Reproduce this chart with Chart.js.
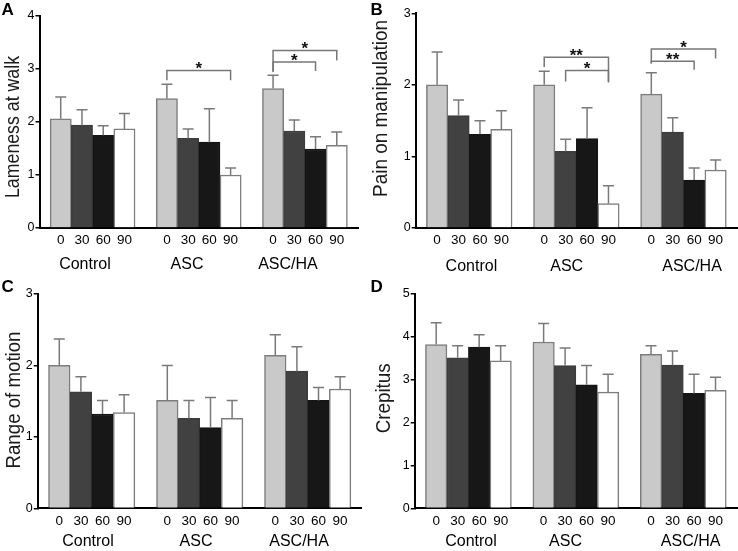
<!DOCTYPE html>
<html>
<head>
<meta charset="utf-8">
<script src="https://cdn.jsdelivr.net/npm/chart.js@4.4.0/dist/chart.umd.min.js"></script>
<style>
  html, body { margin: 0; padding: 0; background: #fff; }
  #wrap { position: relative; width: 738px; height: 551px; overflow: hidden; }
  canvas { position: absolute; }
</style>
</head>
<body>
<div id="wrap">
  <canvas id="chartA" width="369" height="275" style="left:0;top:0"></canvas>
  <canvas id="chartB" width="369" height="275" style="left:369px;top:0"></canvas>
  <canvas id="chartC" width="369" height="276" style="left:0;top:275px"></canvas>
  <canvas id="chartD" width="369" height="276" style="left:369px;top:275px"></canvas>
</div>
<script>
// groups and time points (days)
const groups = ['Control', 'ASC', 'ASC/HA'];
const days = ['0', '30', '60', '90'];

// A - lameness at walk
const lamenessMean = [2.06, 1.94, 1.75, 1.87, 2.44, 1.69, 1.62, 1.00, 2.63, 1.83, 1.49, 1.56];
const lamenessErr  = [0.41, 0.29, 0.18, 0.29, 0.27, 0.18, 0.63, 0.13, 0.25, 0.21, 0.23, 0.25];
// brackets: group, from day, to day, level, left end, right end, label
const lamenessSig = [
  [1, 0, 3, 2.97, 2.79, 2.79, '*'],
  [2, 0, 3, 3.35, 2.95, 3.16, '*'],
  [2, 0, 2, 3.13, 2.95, 2.96, '*']
];

// B - pain on manipulation
const painMean = [2.00, 1.57, 1.31, 1.38, 2.00, 1.07, 1.25, 0.34, 1.87, 1.34, 0.67, 0.81];
const painErr  = [0.46, 0.22, 0.19, 0.26, 0.19, 0.17, 0.43, 0.25, 0.30, 0.20, 0.17, 0.14];
const painSig = [
  [1, 0, 3, 2.385, 2.25, 2.036, '**'],
  [1, 1, 3, 2.20, 2.047, 2.036, '*'],
  [2, 0, 3, 2.50, 2.30, 2.37, '*'],
  [2, 0, 2, 2.33, 2.30, 2.21, '**']
];

// C - range of motion
const romMean = [2.00, 1.63, 1.32, 1.34, 1.51, 1.26, 1.13, 1.26, 2.14, 1.92, 1.51, 1.67];
const romErr  = [0.37, 0.21, 0.19, 0.25, 0.49, 0.25, 0.42, 0.25, 0.29, 0.34, 0.18, 0.17];

// D - crepitus
const crepMean = [3.82, 3.51, 3.76, 3.44, 3.88, 3.33, 2.88, 2.71, 3.59, 3.34, 2.68, 2.75];
const crepErr  = [0.51, 0.28, 0.29, 0.35, 0.43, 0.41, 0.45, 0.42, 0.20, 0.33, 0.45, 0.31];

const barFill = ['#c9c9c9', '#414141', '#171717', '#ffffff'];
const barEdge = ['#7d7d7d', '#3c3c3c', '#151515', '#7d7d7d'];

Chart.defaults.font.family = '"Liberation Sans", Arial, Helvetica, sans-serif';

const panels = [
  { id: 'chartA', letter: 'A', letterY: 15, title: 'Lameness at walk', titleLen: 142, titleAt: [13.5, 127],
    mean: lamenessMean, err: lamenessErr, sig: lamenessSig, yMax: 4,
    area: { left: 39.5, right: 358, top: 16, bottom: 228 }, groupAt: [1.14, 5.95, 10.7], groupGap: 37 },
  { id: 'chartB', letter: 'B', letterY: 15, title: 'Pain on manipulation', titleLen: 177, titleAt: [12.5, 108.5],
    mean: painMean, err: painErr, sig: painSig, yMax: 3,
    area: { left: 46.7, right: 368, top: 13.3, bottom: 228 }, groupAt: [1.6, 6.05, 11.9], groupGap: 38.5 },
  { id: 'chartC', letter: 'C', letterY: 17, title: 'Range of motion', titleLen: 137, titleAt: [14, 125],
    mean: romMean, err: romErr, sig: [], yMax: 3,
    area: { left: 37.7, right: 361.7, top: 19, bottom: 233.3 }, groupAt: [1.33, 6.33, 11.1], groupGap: 33.5 },
  { id: 'chartD', letter: 'D', letterY: 17, title: 'Crepitus', titleLen: 70, titleAt: [15.5, 123.3],
    mean: crepMean, err: crepErr, sig: [], yMax: 5,
    area: { left: 45.7, right: 368, top: 19, bottom: 233.3 }, groupAt: [1.62, 6.02, 11.84], groupGap: 33.5 }
];

// error bars, brackets, titles, panel letters
function decor(p) {
  return {
    id: 'decor',
    afterDatasetsDraw(chart) {
      const ctx = chart.ctx, xS = chart.scales.x, yS = chart.scales.y;
      const meta = chart.getDatasetMeta(0);
      ctx.save();
      ctx.strokeStyle = '#7a7a7a';
      ctx.lineWidth = 1.5;
      meta.data.forEach((bar, i) => {
        const y0 = yS.getPixelForValue(p.mean[i]);
        const y1 = yS.getPixelForValue(p.mean[i] + p.err[i]);
        ctx.beginPath();
        ctx.moveTo(bar.x, y0);
        ctx.lineTo(bar.x, y1);
        ctx.moveTo(bar.x - 5.5, y1);
        ctx.lineTo(bar.x + 5.5, y1);
        ctx.stroke();
      });
      p.sig.forEach(([g, a, b, lvl, dl, dr, lab]) => {
        const x1 = xS.getPixelForValue(g * 5 + a);
        const x2 = xS.getPixelForValue(g * 5 + b);
        const y = yS.getPixelForValue(lvl);
        ctx.strokeStyle = '#777';
        ctx.beginPath();
        ctx.moveTo(x1, yS.getPixelForValue(dl));
        ctx.lineTo(x1, y);
        ctx.lineTo(x2, y);
        ctx.lineTo(x2, yS.getPixelForValue(dr));
        ctx.stroke();
        ctx.fillStyle = '#111';
        ctx.font = 'bold 17px "Liberation Sans", Arial, sans-serif';
        ctx.textAlign = 'center';
        ctx.textBaseline = 'alphabetic';
        ctx.fillText(lab, (x1 + x2) / 2, y + 3.8);
      });
      ctx.restore();
    },
    afterDraw(chart) {
      const ctx = chart.ctx;
      ctx.save();
      ctx.fillStyle = '#000';
      ctx.font = 'bold 17px "Liberation Sans", Arial, sans-serif';
      ctx.textAlign = 'left';
      ctx.textBaseline = 'alphabetic';
      ctx.fillText(p.letter, 1.5, p.letterY);
      // y title: a slightly condensed 21px face, squeezed to the measured length
      ctx.translate(p.titleAt[0], p.titleAt[1]);
      ctx.rotate(-Math.PI / 2);
      ctx.fillStyle = '#1a1a1a';
      ctx.font = '21px "Liberation Sans", Arial, sans-serif';
      const w = ctx.measureText(p.title).width;
      ctx.scale(p.titleLen / w, 1);
      ctx.textAlign = 'center';
      ctx.textBaseline = 'middle';
      ctx.fillText(p.title, 0, 0);
      ctx.restore();
    }
  };
}

function makeChart(p) {
  const canvas = document.getElementById(p.id);
  const W = canvas.width, H = canvas.height;
  const xs = [];
  groups.forEach((g, gi) => days.forEach((d, di) => xs.push(gi * 5 + di)));
  const points = p.mean.map((v, i) => ({ x: xs[i], y: v }));

  new Chart(canvas, {
    type: 'bar',
    data: {
      datasets: [{
        data: points,
        backgroundColor: xs.map((v, i) => barFill[i % 4]),
        borderColor: xs.map((v, i) => barEdge[i % 4]),
        borderWidth: 1.5,
        categoryPercentage: 1,
        barPercentage: 1
      }]
    },
    options: {
      responsive: false,
      animation: false,
      layout: { padding: { left: 0, top: p.area.top, right: W - p.area.right, bottom: 0 } },
      plugins: { legend: { display: false }, tooltip: { enabled: false } },
      scales: {
        x: {
          type: 'linear', position: 'bottom', weight: 0, min: -1, max: 14, offset: false,
          grid: { display: false, drawTicks: false },
          border: { display: true, color: '#000', width: 2 },
          afterBuildTicks: s => { s.ticks = xs.map(v => ({ value: v })); },
          ticks: { autoSkip: false, maxRotation: 0, padding: 4.4, color: '#000', font: { size: 13.5 },
                   callback: (v, i) => days[i % 4] },
          afterFit: s => { s.height = 22; }
        },
        x2: {
          type: 'linear', position: 'bottom', weight: 1, min: -1, max: 14, offset: false,
          grid: { display: false, drawTicks: false },
          border: { display: false },
          afterBuildTicks: s => { s.ticks = p.groupAt.map(v => ({ value: v })); },
          ticks: { autoSkip: false, maxRotation: 0, padding: p.groupGap - 22 - 9.6, color: '#000', font: { size: 16 },
                   callback: (v, i) => groups[i] },
          afterFit: s => { s.height = H - p.area.bottom - 22; }
        },
        y: {
          min: 0, max: p.yMax,
          ticks: { stepSize: 1, padding: 1, color: '#000', font: { size: 12.5 } },
          grid: { drawOnChartArea: false, tickLength: 4, color: '#000', lineWidth: 1.5 },
          border: { color: '#000', width: 2 },
          afterFit: s => { s.width = p.area.left; }
        }
      }
    },
    plugins: [decor(p)]
  });
}

panels.forEach(makeChart);
</script>
</body>
</html>
